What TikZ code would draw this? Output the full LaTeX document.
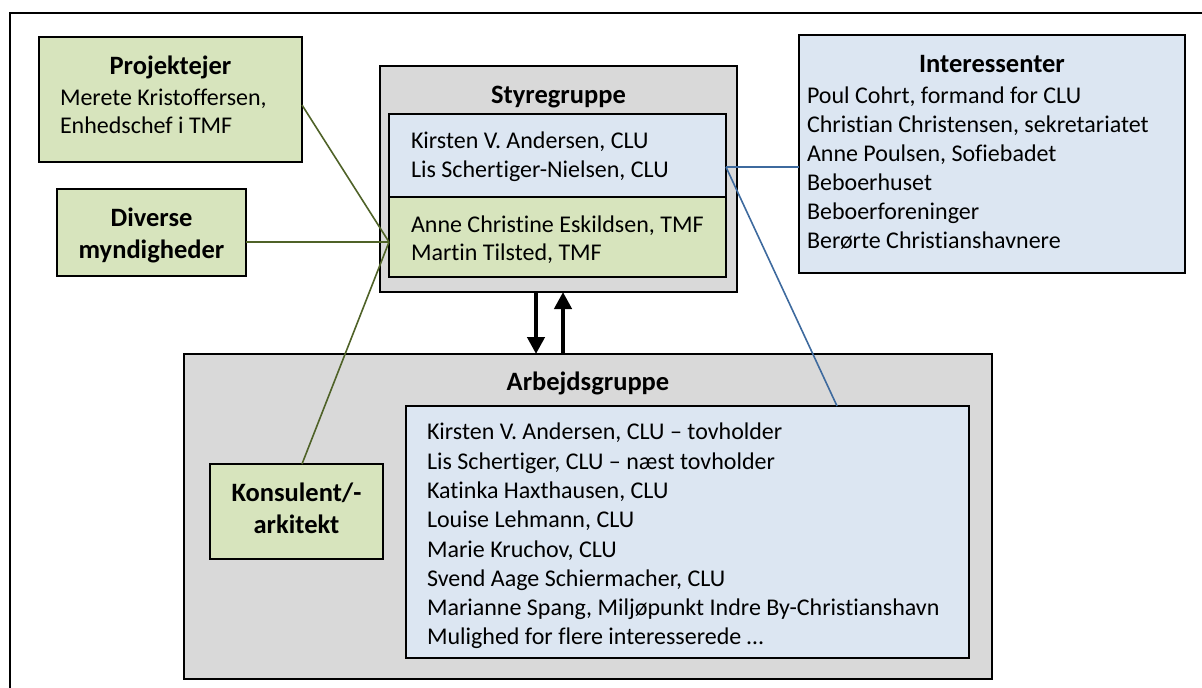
\documentclass[tikz,border=0pt]{standalone}
\usepackage{fontspec}
\setmainfont{Carlito}[Ligatures={NoCommon}]
\usetikzlibrary{arrows.meta}
\definecolor{grn}{HTML}{D7E4BD}
\definecolor{blu}{HTML}{DCE6F2}
\definecolor{gry}{HTML}{D9D9D9}
\definecolor{olive}{HTML}{4F6228}
\definecolor{lblue}{HTML}{3E6A9E}
\tikzset{
  box/.style={draw=black, line width=1.3pt, inner sep=0pt, outer sep=0pt, anchor=north west},
  txt/.style={inner sep=0pt, outer sep=0pt, font=\fontsize{24}{29}\selectfont},
  ttl/.style={txt, font=\fontsize{26.5}{30}\selectfont\bfseries},
  gline/.style={draw=olive, line width=1.6pt},
  bline/.style={draw=lblue, line width=1.6pt},
  bigarrow/.style={line width=4.5pt, -{Triangle[width=17pt,length=17pt]}},
}
\begin{document}
\begin{tikzpicture}[x=1pt,y=-1pt]
\useasboundingbox (0,0) rectangle (1202,688);
% outer frame (continues beyond the page)
\draw[line width=1.4pt] (10,700) -- (10,13) -- (1210,13);

% Projektejer
\node[box, fill=grn, minimum width=263pt, minimum height=125pt] (proj) at (39,37) {};
\node[ttl, anchor=base] (projT) at (170.5,74) {Projektejer};
\node[txt, anchor=base west] (projA) at (60,105) {Merete Kristoffersen,};
\node[txt, anchor=base west] (projB) at (60,133) {Enhedschef i TMF};

% Diverse myndigheder
\node[box, fill=grn, minimum width=189pt, minimum height=87pt] (div) at (57,189) {};
\node[ttl, anchor=base] (divA) at (151.5,226) {Diverse};
\node[ttl, anchor=base] (divB) at (151.5,258) {myndigheder};

% Styregruppe
\node[box, fill=gry, minimum width=357pt, minimum height=226pt] (sty) at (380,66) {};
\node[ttl, anchor=base] (styT) at (558.5,103) {Styregruppe};
\node[box, fill=blu, minimum width=337pt, minimum height=83pt] (styB) at (389,114) {};
\node[box, fill=grn, minimum width=337pt, minimum height=80pt] (styG) at (389,197) {};
\node[txt, anchor=base west] (s1) at (411,148) {Kirsten V. Andersen, CLU};
\node[txt, anchor=base west] (s2) at (411,177) {Lis Schertiger-Nielsen, CLU};
\node[txt, anchor=base west] (s3) at (411,232) {Anne Christine Eskildsen, TMF};
\node[txt, anchor=base west] (s4) at (411,260) {Martin Tilsted, TMF};

% Interessenter
\node[box, fill=blu, minimum width=386pt, minimum height=238pt] (int) at (799,35) {};
\node[ttl, anchor=base] (intT) at (992,72) {Interessenter};
\node[txt, anchor=base west] (i1) at (807,103) {Poul Cohrt, formand for CLU};
\node[txt, anchor=base west] (i2) at (807,132) {Christian Christensen, sekretariatet};
\node[txt, anchor=base west] (i3) at (807,161) {Anne Poulsen, Sofiebadet};
\node[txt, anchor=base west] (i4) at (807,190) {Beboerhuset};
\node[txt, anchor=base west] (i5) at (807,219) {Beboerforeninger};
\node[txt, anchor=base west] (i6) at (807,248) {Berørte Christianshavnere};

% Arbejdsgruppe
\node[box, fill=gry, minimum width=808pt, minimum height=325pt] (arb) at (184,354) {};
\node[ttl, anchor=base] (arbT) at (588,390) {Arbejdsgruppe};
\node[box, fill=blu, minimum width=563pt, minimum height=252pt] (arbB) at (406,406) {};
\node[txt, anchor=base west] (a1) at (427,439) {Kirsten V. Andersen, CLU – tovholder};
\node[txt, anchor=base west] (a2) at (427,469) {Lis Schertiger, CLU – næst tovholder};
\node[txt, anchor=base west] (a3) at (427,498) {Katinka Haxthausen, CLU};
\node[txt, anchor=base west] (a4) at (427,527) {Louise Lehmann, CLU};
\node[txt, anchor=base west] (a5) at (427,557) {Marie Kruchov, CLU};
\node[txt, anchor=base west] (a6) at (427,586) {Svend Aage Schiermacher, CLU};
\node[txt, anchor=base west] (a7) at (427,615) {Marianne Spang, Miljøpunkt Indre By-Christianshavn};
\node[txt, anchor=base west] (a8) at (427,644) {Mulighed for flere interesserede …};

% Konsulent
\node[box, fill=grn, minimum width=173pt, minimum height=95pt] (kon) at (210,464) {};
\node[ttl, anchor=base] (konA) at (296.5,501) {Konsulent/-};
\node[ttl, anchor=base] (konB) at (296.5,533) {arkitekt};

% connector points
\coordinate (gj) at (389,242);
\coordinate (projP) at (302,105);
\coordinate (konP) at (302,464);
\coordinate (bj) at (726,167);
\coordinate (intP) at (799,167);
\coordinate (arbP) at (837,406);

\draw[gline] (projP) -- (gj);
\draw[gline] (div.east |- gj) -- (gj);
\draw[gline] (konP) -- (gj);
\draw[bline] (bj) -- (intP);
\draw[bline] (bj) -- (arbP);

% arrows between Styregruppe and Arbejdsgruppe
\draw[bigarrow] (sty.south -| 536,0) -- (arb.north -| 536,0);
\draw[bigarrow] (arb.north -| 563,0) -- (sty.south -| 563,0);
\end{tikzpicture}
\end{document}
